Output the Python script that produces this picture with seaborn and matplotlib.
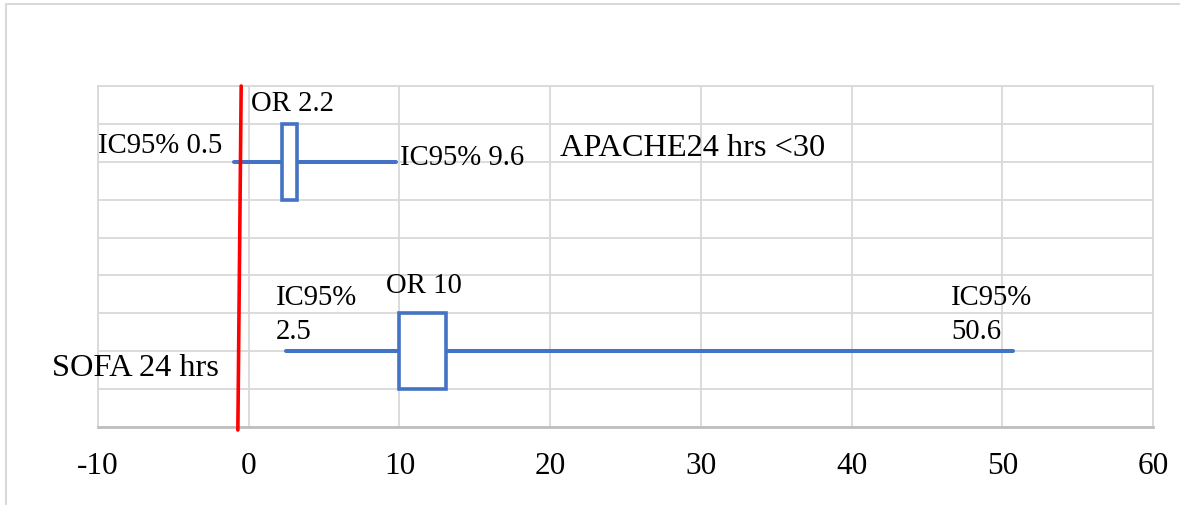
import matplotlib
matplotlib.use("Agg")
import matplotlib.pyplot as plt
import seaborn as sns
import pandas as pd
from matplotlib.lines import Line2D

# ---- data ----
rows = ["APACHE24 hrs <30", "SOFA 24 hrs"]
row_y = [7, 2]
odds_ratio = [2.2, 10.0]
box_top = [3.2, 13.1]
whisker_low = [-1.0, 2.5]
whisker_high = [9.75, 50.7]
ci_low_labels = ["IC95% 0.5", "IC95%\n2.5"]
ci_high_labels = ["IC95% 9.6", "IC95%\n50.6"]
or_labels = ["OR 2.2", "OR 10"]
ref_line_x = [-0.5, -0.72]
ref_line_y = [9.0, -0.08]
xticks = [-10, 0, 10, 20, 30, 40, 50, 60]

sns.set_theme(style="white")
plt.rcParams["font.family"] = ["Liberation Serif", "DejaVu Serif"]
plt.rcParams["text.color"] = "black"

fig = plt.figure(figsize=(11.8, 5.05), dpi=100)
ax = fig.add_axes([98 / 1180, 1 - 427 / 505, 1055 / 1180, 341 / 505])

blue = "#4472C4"
grid_c = "#D9D9D9"

# whiskers
wdf = pd.DataFrame({
    "x": whisker_low + whisker_high,
    "y": row_y + row_y,
    "row": rows + rows,
})
sns.lineplot(data=wdf, x="x", y="y", units="row", estimator=None,
             color=blue, lw=2.9, ax=ax, zorder=3, legend=False)

# boxes
ax.bar(odds_ratio, [2, 2],
       width=[b - o for b, o in zip(box_top, odds_ratio)],
       bottom=[y - 1 for y in row_y], align="edge",
       facecolor="white", edgecolor=blue, linewidth=2.6, zorder=4)

# reference line
ax.add_line(Line2D(ref_line_x, ref_line_y, color="#FF0000", lw=2.6,
                   zorder=5, clip_on=False))

ax.set_xlim(-10, 60)
ax.set_ylim(0, 9)
ax.set_xticks(xticks)
ax.set_xticklabels([str(t) for t in xticks])
ax.set_yticks(range(0, 10))
ax.set_yticklabels([])
ax.grid(True, color=grid_c, lw=1.3)
ax.set_axisbelow(True)
ax.tick_params(axis="x", length=0, pad=18, labelsize=22.5, colors="black")
ax.tick_params(axis="y", length=0)
for s in ["top", "left", "right"]:
    ax.spines[s].set_color(grid_c)
    ax.spines[s].set_linewidth(1.3)
ax.spines["bottom"].set_color("#BFBFBF")
ax.spines["bottom"].set_linewidth(2)
ax.set_xlabel("")
ax.set_ylabel("")

fs_cat = 23.3
fs = 20.7
ls = 1.4
ax.text(0.13, 8.53, or_labels[0], fontsize=fs, va="center", ha="left")
ax.text(-1.75, 7.42, ci_low_labels[0], fontsize=fs, va="center", ha="right")
ax.text(10.05, 7.1, ci_high_labels[0], fontsize=fs, va="center", ha="left")
ax.text(20.65, 7.35, rows[0], fontsize=fs_cat, va="center", ha="left")
ax.text(9.1, 3.71, or_labels[1], fontsize=fs, va="center", ha="left")
ax.text(1.8, 2.96, ci_low_labels[1], fontsize=fs, va="center", ha="left",
        linespacing=ls)
ax.text(46.6, 2.96, ci_high_labels[1], fontsize=fs, va="center", ha="left",
        linespacing=ls)
ax.text(-1.95, 1.55, rows[1], fontsize=fs_cat, va="center", ha="right")

# outer chart border
fig.add_artist(Line2D([6 / 1180, 1.0], [1 - 4 / 505, 1 - 4 / 505],
                      transform=fig.transFigure, color=grid_c, lw=1.5))
fig.add_artist(Line2D([6 / 1180, 6 / 1180], [0, 1 - 4 / 505],
                      transform=fig.transFigure, color=grid_c, lw=1.5))

fig.savefig("out.png", dpi=100)
